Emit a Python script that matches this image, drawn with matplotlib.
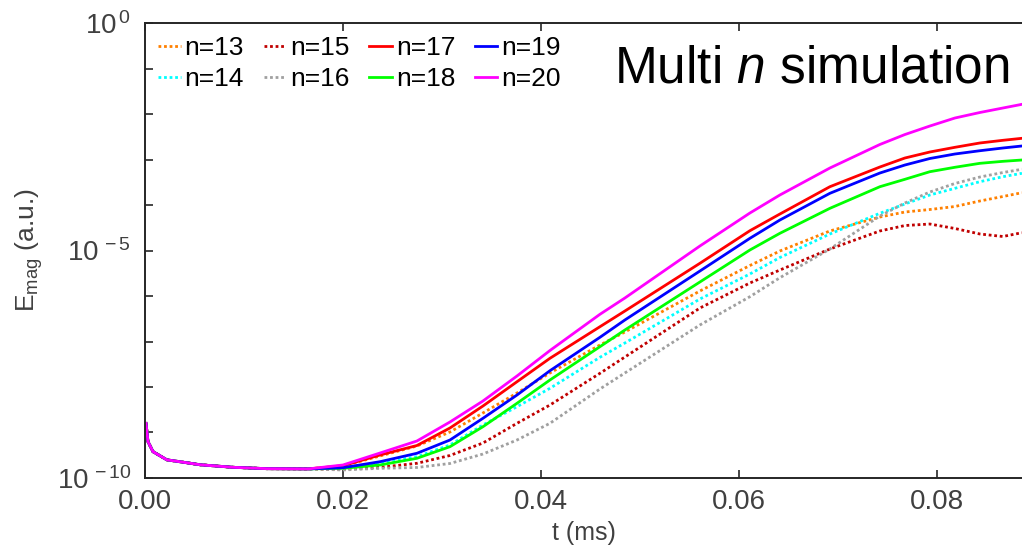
import matplotlib
matplotlib.use("Agg")
import matplotlib.pyplot as plt
from matplotlib.ticker import FixedLocator, FuncFormatter
import numpy as np

plt.rcParams['font.family'] = ['Liberation Sans', 'DejaVu Sans']
plt.rcParams['mathtext.fontset'] = 'custom'
plt.rcParams['mathtext.rm'] = 'Liberation Sans'
plt.rcParams['mathtext.it'] = 'Liberation Sans:italic'

# early part, identical for all n (t in ms, log10 of E_mag)
t_early = [0.0001, 0.0003, 0.0008, 0.0022, 0.0056, 0.0089, 0.0123, 0.0165]
e_early = [-8.8, -9.2, -9.42, -9.60, -9.71, -9.765, -9.795, -9.80]

# later part, where the curves split
t_late = [0.02000, 0.02374, 0.02747, 0.03081, 0.03414, 0.03758, 0.04091, 0.04596,
          0.04848, 0.05606, 0.06111, 0.06414, 0.06919, 0.07424, 0.07677, 0.07929,
          0.08182, 0.08434, 0.08667, 0.08859]

e_n13 = [-9.736, -9.516, -9.297, -8.989, -8.571, -8.132, -7.692, -7.077, -6.791, -5.890,
         -5.330, -5.011, -4.571, -4.264, -4.154, -4.099, -4.033, -3.912, -3.813, -3.730]
e_n14 = [-9.780, -9.670, -9.532, -9.275, -8.835, -8.433, -8.029, -7.347, -7.033, -6.066,
         -5.516, -5.154, -4.637, -4.182, -3.978, -3.780, -3.633, -3.488, -3.378, -3.303]
e_n15 = [-9.809, -9.765, -9.677, -9.505, -9.231, -8.798, -8.396, -7.699, -7.341, -6.264,
         -5.714, -5.429, -4.967, -4.571, -4.451, -4.418, -4.516, -4.637, -4.692, -4.609]
e_n16 = [-9.824, -9.787, -9.769, -9.681, -9.473, -9.165, -8.798, -8.044, -7.692, -6.637,
         -6.015, -5.598, -4.967, -4.242, -3.956, -3.714, -3.527, -3.385, -3.286, -3.215]
e_n17 = [-9.730, -9.495, -9.286, -8.901, -8.418, -7.884, -7.369, -6.675, -6.330, -5.281,
         -4.565, -4.198, -3.598, -3.165, -2.967, -2.835, -2.732, -2.637, -2.578, -2.534]
e_n18 = [-9.787, -9.714, -9.567, -9.312, -8.873, -8.358, -7.846, -7.114, -6.747, -5.692,
         -4.989, -4.622, -4.073, -3.598, -3.435, -3.268, -3.171, -3.084, -3.040, -3.011]
e_n19 = [-9.774, -9.642, -9.457, -9.165, -8.688, -8.176, -7.642, -6.908, -6.527, -5.451,
         -4.732, -4.330, -3.743, -3.297, -3.121, -2.978, -2.879, -2.807, -2.747, -2.703]
e_n20 = [-9.714, -9.451, -9.187, -8.769, -8.308, -7.758, -7.198, -6.402, -6.044, -4.901,
         -4.176, -3.780, -3.187, -2.670, -2.451, -2.264, -2.088, -1.967, -1.868, -1.787]

labels = ["n=13", "n=14", "n=15", "n=16", "n=17", "n=18", "n=19", "n=20"]
series = [e_n13, e_n14, e_n15, e_n16, e_n17, e_n18, e_n19, e_n20]
colors = ['#FF8000', '#00FFFF', '#C00000', '#A0A0A0',
          '#FF0000', '#00FF00', '#0000FF', '#FF00FF']
styles = [(0, (1, 1))] * 4 + ['-'] * 4

fig = plt.figure(figsize=(10.22, 5.56), dpi=100)
ax = fig.add_axes([0.1419, 0.1403, 0.8581, 0.8183])

for lab, e, c, ls in zip(labels, series, colors, styles):
    t = np.array(t_early + t_late)
    y = 10.0 ** np.array(e_early + e)
    ax.plot(t, y, color=c, linestyle=ls, lw=2, label=lab,
            solid_joinstyle='round', dash_joinstyle='round')

ax.set_yscale('log')
ax.set_xlim(0, 0.0886)
ax.set_ylim(1e-10, 1e0)

grey = '#404040'
ax.set_xticks([0, 0.02, 0.04, 0.06, 0.08])
ax.set_xticklabels(["0.00", "0.02", "0.04", "0.06", "0.08"])
ax.yaxis.set_major_locator(FixedLocator([10.0 ** k for k in range(-10, 1)]))
ax.yaxis.set_minor_locator(FixedLocator([]))


def ylab(v, pos):
    k = int(round(np.log10(v)))
    if k % 5 != 0:
        return ""
    return r'$\mathregular{10^{\,%d}}$' % k


ax.yaxis.set_major_formatter(FuncFormatter(ylab))
ax.tick_params(axis='both', direction='in', length=6, width=1.2,
               labelsize=20, labelcolor=grey, color='#262626')
ax.tick_params(axis='x', top=True, pad=8)
ax.tick_params(axis='y', pad=10)
ax.spines['right'].set_visible(False)
for s in ['left', 'bottom', 'top']:
    ax.spines[s].set_linewidth(1.4)
    ax.spines[s].set_color('#262626')

ax.set_xlabel("t (ms)", fontsize=18, color=grey, labelpad=4)
ax.set_ylabel(r'E$_{\mathregular{mag}}$ (a.u.)', fontsize=19, color=grey, labelpad=8)

ax.legend(loc='upper left', ncol=4, frameon=False, fontsize=19,
          handlelength=0.85, handletextpad=0.15, columnspacing=0.75,
          labelspacing=0.25, borderaxespad=0.3, borderpad=0.2)

ax.text(0.986, 0.90, r'Multi $\mathit{n}$ simulation', transform=ax.transAxes,
        ha='right', va='center', fontsize=37, color='black')

fig.savefig("out.png", dpi=100)
